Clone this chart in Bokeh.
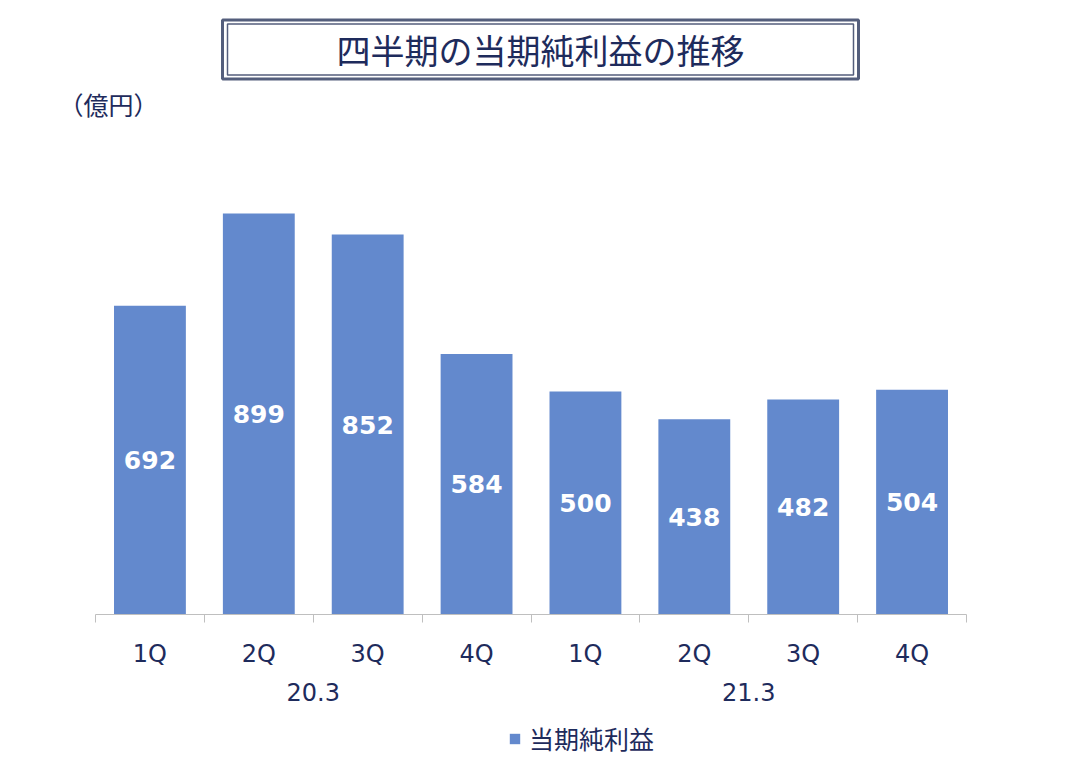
from bokeh.plotting import figure
from bokeh.models import (Range1d, LinearAxis, FixedTicker, Label, Legend, LegendItem)
from bokeh.core.properties import value
from bokeh.embed import file_html
from bokeh.resources import INLINE

# ---- data ----
quarters = ["1Q", "2Q", "3Q", "4Q", "1Q", "2Q", "3Q", "4Q"]
years = ["20.3", "21.3"]
profit = [692, 899, 852, 584, 500, 438, 482, 504]
title_text = "四半期の当期純利益の推移"
unit_text = "（億円）"
series_name = "当期純利益"

BAR = "#6389CD"
NAVY = "#1E2B5C"
GRAY = "#BFBFBF"
JP = "Noto Sans CJK JP"
LAT = "DejaVu Sans"

W = 1073
H = 776
base_px = 614           # page y of the value axis baseline
px_per_unit_x = 108.875
px_per_unit_y = 0.446
x0 = -95 / px_per_unit_x
x_end = x0 + W / px_per_unit_x
y_end = base_px / px_per_unit_y
y0 = -(H - base_px) / px_per_unit_y

p = figure(frame_width=W, frame_height=H, output_backend="svg", toolbar_location=None,
           x_range=Range1d(x0, x_end), y_range=Range1d(y0, y_end),
           x_axis_location=None, y_axis_location=None,
           min_border_left=0, min_border_right=0, min_border_top=0,
           min_border_bottom=0)
p.outline_line_color = None
p.xgrid.visible = False
p.ygrid.visible = False

def page_x(px):
    return (px - 95) / px_per_unit_x

def page_y(py):
    return (base_px - py) / px_per_unit_y

n = len(profit)
xs = [i + 0.5 for i in range(n)]
bars = p.vbar(x=xs, top=profit, width=0.66, bottom=0, fill_color=BAR, line_color=None)

p.text(x=xs, y=[v / 2 for v in profit], text=[str(v) for v in profit],
       text_align="center", text_baseline="middle", text_color="white",
       text_font=value(LAT), text_font_style="bold", text_font_size="25px")

# category axis line with boundary ticks (at y = 0)
ax1 = LinearAxis(ticker=FixedTicker(ticks=list(range(n + 1))), bounds=(0, n),
                 fixed_location=0,
                 major_label_overrides={i: "" for i in range(n + 1)},
                 major_label_text_font_size="1px", major_label_standoff=0,
                 major_tick_in=0, major_tick_out=8, minor_tick_out=0, minor_tick_in=0,
                 axis_line_color=GRAY, major_tick_line_color=GRAY)
p.add_layout(ax1, "below")

ax2 = LinearAxis(ticker=FixedTicker(ticks=xs), fixed_location=0,
                 major_label_overrides={x: q for x, q in zip(xs, quarters)},
                 major_label_text_font=LAT, major_label_text_font_size="24px",
                 major_label_text_color=NAVY, major_label_standoff=25,
                 major_tick_in=0, major_tick_out=0, minor_tick_in=0, minor_tick_out=0,
                 major_tick_line_color=None, minor_tick_line_color=None,
                 axis_line_color=None)
p.add_layout(ax2, "below")

group_x = [2.0, 6.0]
ax3 = LinearAxis(ticker=FixedTicker(ticks=group_x), fixed_location=0,
                 major_label_overrides={x: y for x, y in zip(group_x, years)},
                 major_label_text_font=LAT, major_label_text_font_size="24px",
                 major_label_text_color=NAVY, major_label_standoff=68,
                 major_tick_in=0, major_tick_out=0, minor_tick_in=0, minor_tick_out=0,
                 major_tick_line_color=None, minor_tick_line_color=None,
                 axis_line_color=None)
p.add_layout(ax3, "below")

legend = Legend(items=[LegendItem(label=series_name, renderers=[bars])],
                location=(508, 20), orientation="horizontal",
                label_text_font=JP, label_text_font_size="25px", label_text_color=NAVY,
                glyph_width=13, glyph_height=13, label_standoff=8,
                padding=0, margin=0, border_line_color=None, background_fill_alpha=0)
p.add_layout(legend)

# title box (double border)
tx = page_x(540)
ty = page_y(49)
outer = Label(x=tx, y=ty, text=title_text, text_font=JP, text_font_size="34px",
              text_color="white", text_align="center", text_baseline="middle",
              border_line_color="#545E7C", border_line_width=3,
              background_fill_color="white",
              padding=dict(left=114, right=114, top=5, bottom=5))
inner = Label(x=tx, y=ty, text=title_text, text_font=JP, text_font_size="34px",
              text_color=NAVY, text_align="center", text_baseline="middle",
              border_line_color="#545E7C", border_line_width=1.5,
              padding=dict(left=109, right=109, top=1, bottom=1))
p.add_layout(outer)
p.add_layout(inner)

unit = Label(x=page_x(58), y=page_y(103),
             text=unit_text, text_font=JP, text_font_size="25px", text_color=NAVY,
             text_align="left", text_baseline="middle")
p.add_layout(unit)

open("out.html", "w").write(file_html(p, INLINE))
